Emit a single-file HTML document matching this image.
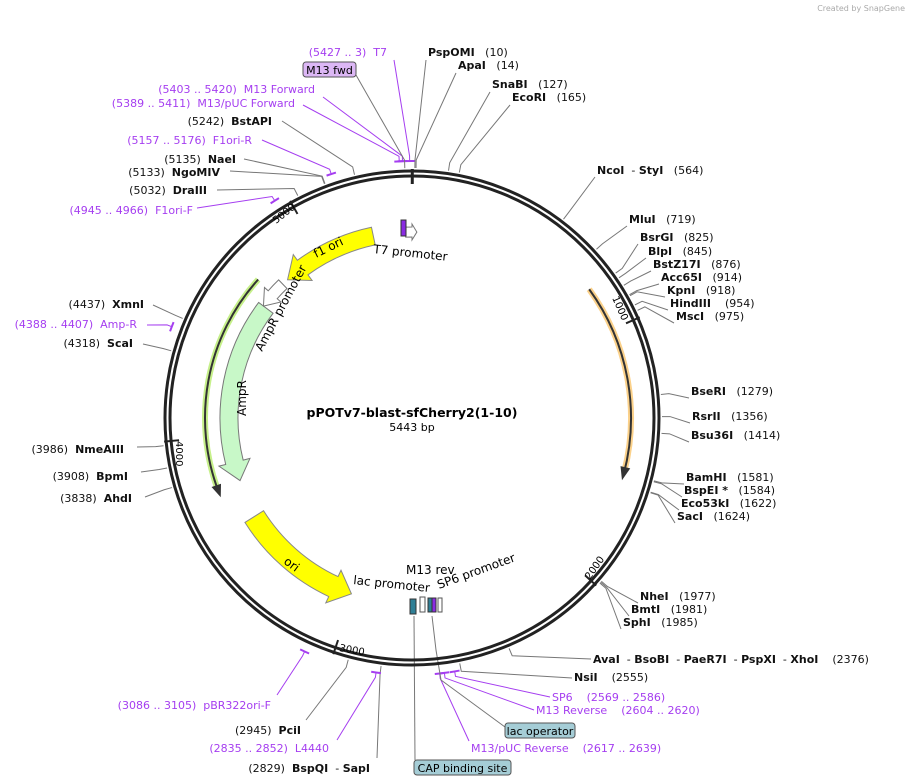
<!DOCTYPE html>
<html><head><meta charset="utf-8">
<style>
html,body{margin:0;padding:0;background:#fff;}
svg{display:block;font-family:"DejaVu Sans","Liberation Sans",sans-serif;}
text{font-size:11px;}
.b{font-weight:bold;}
.p{fill:#a53ef0;}
</style></head>
<body>
<svg id="s" width="908" height="784" viewBox="0 0 908 784" xmlns="http://www.w3.org/2000/svg">
<text x="905" y="11" font-size="8" fill="#aaa" text-anchor="end" style="font-size:8px">Created by  SnapGene</text>
<g id="lines"></g>
<circle cx="412" cy="418" r="247" fill="none" stroke="#222" stroke-width="3"/>
<circle cx="412" cy="418" r="242" fill="none" stroke="#222" stroke-width="3"/>
<g id="feat"></g>
<g id="lab"></g>
<text x="412" y="417" text-anchor="middle" class="b" style="font-size:12.5px">pPOTv7-blast-sfCherry2(1-10)</text>
<text x="412" y="431" text-anchor="middle" style="font-size:11px">5443 bp</text>
<text transform="translate(316,258) rotate(-26)" style="font-size:12px">f1 ori</text>
<text transform="translate(262,352) rotate(-62)" style="font-size:12px">AmpR promoter</text>
<text transform="translate(246,416) rotate(-90)" style="font-size:12px">AmpR</text>
<text transform="translate(283,563) rotate(36)" style="font-size:12px">ori</text>
<text transform="translate(373,253) rotate(6)" style="font-size:12px">T7 promoter</text>
<text transform="translate(353,584) rotate(6)" style="font-size:12px">lac promoter</text>
<text x="406" y="574" style="font-size:12px">M13 rev</text>
<text transform="translate(439,589) rotate(-20)" style="font-size:12px">SP6 promoter</text>
<text transform="translate(276,224) rotate(-38)" style="font-size:10px">5000</text>
<text transform="translate(612,298) rotate(66)" style="font-size:10px">1000</text>
<text transform="translate(176,441) rotate(90)" style="font-size:10px">4000</text>
<text transform="translate(339,651) rotate(10)" style="font-size:10px">3000</text>
<text transform="translate(590,580) rotate(-55)" style="font-size:10px">2000</text>
<rect x="303" y="62" width="53" height="15" rx="3" fill="#dcb7f5" stroke="#555"/>
<text x="329.5" y="74" text-anchor="middle">M13 fwd</text>
<rect x="505" y="723" width="70" height="15" rx="3" fill="#a5cdd6" stroke="#555"/>
<text x="540" y="735" text-anchor="middle">lac operator</text>
<rect x="414" y="760" width="97" height="15" rx="3" fill="#a5cdd6" stroke="#555"/>
<text x="462.5" y="772" text-anchor="middle">CAP binding site</text>
</svg>
<script>
var CX=412,CY=418,N=5443,NS="http://www.w3.org/2000/svg";
function P(a,r){var t=a*Math.PI/180;return [CX+r*Math.sin(t),CY-r*Math.cos(t)];}
function pa(p){return p/N*360;}
function el(g,tag,at){var e=document.createElementNS(NS,tag);for(var k in at)e.setAttribute(k,at[k]);document.getElementById(g).appendChild(e);return e;}
function arc(a1,a2,r){var p1=P(a1,r),p2=P(a2,r);var sw=a2>a1?1:0;var lg=Math.abs(a2-a1)>180?1:0;return "A"+r+","+r+" 0 "+lg+","+sw+" "+p2[0]+","+p2[1];}
function arrow(a1,a2,r1,r2,h,fill,stroke,ex){
 ex=ex||7;var d=a2>a1?1:-1;var ah=a2-d*h;var m=(r1+r2)/2;
 var s=P(a1,r2),b1=P(ah,r2),b2=P(ah,r2+ex),t=P(a2,m),b3=P(ah,r1-ex),b4=P(ah,r1),e=P(a1,r1);
 var dd="M"+s+" "+arc(a1,ah,r2)+" L"+b2+" L"+t+" L"+b3+" L"+b4+" "+arc(ah,a1,r1)+" Z";
 el("feat","path",{d:dd,fill:fill,stroke:stroke,"stroke-width":1});
}
function line(a1,a2,r,col,w){
 var s=P(a1,r);el("feat","path",{d:"M"+s+" "+arc(a1,a2,r),fill:"none",stroke:col,"stroke-width":w});
}
arrow(-12,-42,177,195,6,"#ffff00","#888");
arrow(-53,-110,174,192,6,"#c8f8c8","#777");
arrow(-44,-53,180,192,4.5,"#fff","#777",5);
arrow(-122,-161,175,197,6,"#ffff00","#888");
arrow(-2,1.5,181,191,1.5,"#fff","#777",3);
el("feat","rect",{x:401,y:220,width:5,height:16,fill:"#8a2be2",stroke:"#333"});
line(-48,-110,207,"#c6f08a",6);line(-48,-111,207,"#333",2);
el("feat","path",{d:"M"+P(-112.5,207)+" L"+P(-109,202)+" L"+P(-109,212)+" Z",fill:"#333"});
line(54,104,219,"#fbd18a",6);line(54,105,219,"#333",2);
el("feat","path",{d:"M"+P(106.5,219)+" L"+P(103,214)+" L"+P(103,224)+" Z",fill:"#333"});
el("feat","rect",{x:410,y:599,width:6,height:15,fill:"#2f7f96",stroke:"#333"});
el("feat","rect",{x:420,y:597,width:5,height:15,fill:"#fff",stroke:"#555"});
el("feat","rect",{x:428,y:598,width:6,height:14,fill:"#2f7f96",stroke:"#333"});
el("feat","rect",{x:432,y:598,width:4,height:14,fill:"#8a2be2",stroke:"#333"});
el("feat","rect",{x:438,y:598,width:4,height:14,fill:"#fff",stroke:"#555"});
[1,1000,2000,3000,4000,5000].forEach(function(p){var a=pa(p);var a1=P(a,249),a2=P(a,234);el("feat","line",{x1:a1[0],y1:a1[1],x2:a2[0],y2:a2[1],stroke:"#222","stroke-width":p==1?3:2});});
var PU="#a53ef0";
var L=[
[428,56,"start",[["PspOMI",1],["   (10)",0]],10,426,60],
[458,69,"start",[["ApaI",1],["   (14)",0]],14,456,73],
[492,88,"start",[["SnaBI",1],["   (127)",0]],127,490,92],
[512,101,"start",[["EcoRI",1],["   (165)",0]],165,510,105],
[597,174,"start",[["NcoI",1],["  - ",0],["StyI",1],["   (564)",0]],564,595,177],
[629,223,"start",[["MluI",1],["   (719)",0]],719,627,226],
[640,241,"start",[["BsrGI",1],["   (825)",0]],825,638,244],
[648,255,"start",[["BlpI",1],["   (845)",0]],845,646,258],
[653,268,"start",[["BstZ17I",1],["   (876)",0]],876,651,271],
[661,281,"start",[["Acc65I",1],["   (914)",0]],914,659,284],
[667,294,"start",[["KpnI",1],["   (918)",0]],918,665,297],
[670,307,"start",[["HindIII",1],["    (954)",0]],954,668,310],
[676,320,"start",[["MscI",1],["   (975)",0]],975,674,323],
[691,395,"start",[["BseRI",1],["   (1279)",0]],1279,689,398],
[692,420,"start",[["RsrII",1],["   (1356)",0]],1356,690,423],
[691,439,"start",[["Bsu36I",1],["   (1414)",0]],1414,689,442],
[686,481,"start",[["BamHI",1],["   (1581)",0]],1581,684,484],
[684,494,"start",[["BspEI *",1],["   (1584)",0]],1584,682,497],
[681,507,"start",[["Eco53kI",1],["   (1622)",0]],1622,679,510],
[677,520,"start",[["SacI",1],["   (1624)",0]],1624,675,523],
[640,600,"start",[["NheI",1],["   (1977)",0]],1977,638,603],
[631,613,"start",[["BmtI",1],["   (1981)",0]],1981,629,616],
[623,626,"start",[["SphI",1],["   (1985)",0]],1985,621,629],
[593,663,"start",[["AvaI",1],["  - ",0],["BsoBI",1],["  - ",0],["PaeR7I",1],["  - ",0],["PspXI",1],["  - ",0],["XhoI",1],["    (2376)",0]],2376,591,659],
[574,681,"start",[["NsiI",1],["    (2555)",0]],2555,572,678],
[552,701,"start",[["SP6",0,1],["    (2569 .. 2586)",0,1]],2577,550,697,1],
[536,714,"start",[["M13 Reverse",0,1],["    (2604 .. 2620)",0,1]],2612,534,710,1],
[471,752,"start",[["M13/pUC Reverse",0,1],["    (2617 .. 2639)",0,1]],2628,469,741,1],
[370,772,"end",[["(2829)  ",0],["BspQI",1],["  - ",0],["SapI",1]],2829,377,758],
[329,752,"end",[["(2835 .. 2852)  L4440",0,1]],2843,337,740,1],
[301,734,"end",[["(2945)  ",0],["PciI",1]],2945,306,720],
[271,709,"end",[["(3086 .. 3105)  pBR322ori-F",0,1]],3095,277,695,1],
[132,502,"end",[["(3838)  ",0],["AhdI",1]],3838,145,497],
[128,480,"end",[["(3908)  ",0],["BpmI",1]],3908,141,472],
[124,453,"end",[["(3986)  ",0],["NmeAIII",1]],3986,137,447],
[133,347,"end",[["(4318)  ",0],["ScaI",1]],4318,143,344],
[137,328,"end",[["(4388 .. 4407)  Amp-R",0,1]],4397,147,325,1],
[144,308,"end",[["(4437)  ",0],["XmnI",1]],4437,153,305],
[193,214,"end",[["(4945 .. 4966)  F1ori-F",0,1]],4955,197,208,1],
[207,194,"end",[["(5032)  ",0],["DraIII",1]],5032,217,190],
[220,176,"end",[["(5133)  ",0],["NgoMIV",1]],5133,230,171],
[236,163,"end",[["(5135)  ",0],["NaeI",1]],5135,244,159],
[252,144,"end",[["(5157 .. 5176)  F1ori-R",0,1]],5166,262,140,1],
[272,125,"end",[["(5242)  ",0],["BstAPI",1]],5242,282,121],
[295,107,"end",[["(5389 .. 5411)  M13/pUC Forward",0,1]],5400,303,105,1],
[315,93,"end",[["(5403 .. 5420)  M13 Forward",0,1]],5411,323,97,1],
[387,56,"end",[["(5427 .. 3)  T7",0,1]],5435,394,60,1],
[0,0,"none",[],5418,356,75],
];
L.forEach(function(l){
 var pur=l[7];var col=pur?PU:"#777";
 var a=pa(l[4]);var r0=pur?257:250;var p0=P(a,r0),p1=P(a,pur?262:258);
 el("lines","polyline",{points:p0+" "+p1+" "+l[5]+","+l[6],fill:"none",stroke:col,"stroke-width":1});
 if(pur){var a1=a-1.1,a2=a+1.1;el("lines","path",{d:"M"+P(a1,257)+" "+arc(a1,a2,257),fill:"none",stroke:PU,"stroke-width":2});}
 if(l[2]=="none")return;
 var t=el("lab","text",{x:l[0],y:l[1],"text-anchor":l[2]});t.style.whiteSpace="pre";
 l[3].forEach(function(pt){var s=document.createElementNS(NS,"tspan");s.textContent=pt[0];if(pt[1])s.setAttribute("class","b");s.setAttribute("fill",pt[2]?PU:"#111");t.appendChild(s);});
});
el("lines","line",{x1:414,y1:616,x2:415,y2:760,stroke:"#777"});
el("lines","polyline",{points:"432,616 436,650 441,680 505,727",fill:"none",stroke:"#777"});
</script>
</body></html>
